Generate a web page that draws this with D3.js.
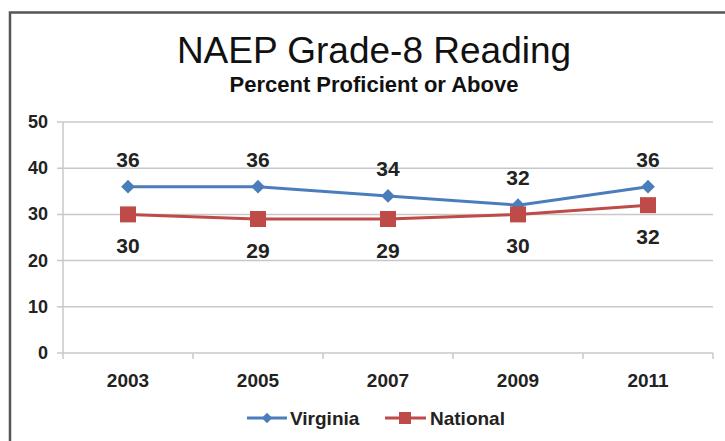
<!DOCTYPE html>
<html>
<head>
<meta charset="utf-8">
<script src="https://cdn.jsdelivr.net/npm/d3@7"></script>
<style>
body { margin: 0; background: #fff; }
text { font-family: "Liberation Sans", Arial, sans-serif; }
</style>
</head>
<body>
<div id="chart"></div>
<script>
var years = ["2003", "2005", "2007", "2009", "2011"]
var virginia = [36, 36, 34, 32, 36]
var national = [30, 29, 29, 30, 32]
var yTicks = [0, 10, 20, 30, 40, 50]

var svg = d3.select("#chart").append("svg").attr("width", 725).attr("height", 441)

// outer frame
svg.append("path")
    .attr("d", "M10,441 L10,12.5 L725,12.5")
    .attr("fill", "none")
    .attr("stroke", "#555")
    .attr("stroke-width", 2.5)

svg.append("text")
    .attr("x", 374).attr("y", 63)
    .attr("text-anchor", "middle")
    .style("font-size", "37px")
    .attr("fill", "#111")
    .text("NAEP Grade-8 Reading")

svg.append("text")
    .attr("x", 374).attr("y", 92)
    .attr("text-anchor", "middle")
    .style("font-size", "22px")
    .style("font-weight", "bold")
    .attr("fill", "#111")
    .text("Percent Proficient or Above")

var x = d3.scaleBand().domain(years).range([63, 713])
var y = d3.scaleLinear().domain([0, 50]).range([353, 122])

// gridlines
svg.append("g").selectAll("line").data(yTicks).join("line")
    .attr("x1", 57).attr("x2", 713)
    .attr("y1", function(d) { return y(d) }).attr("y2", function(d) { return y(d) })
    .attr("stroke", "#c8c8c8").attr("stroke-width", 1.5)

// y axis
svg.append("line")
    .attr("x1", 63).attr("x2", 63).attr("y1", 122).attr("y2", 353)
    .attr("stroke", "#c8c8c8").attr("stroke-width", 1.5)

svg.append("g").selectAll("text").data(yTicks).join("text")
    .attr("x", 48).attr("y", function(d) { return y(d) + 6 })
    .attr("text-anchor", "end")
    .style("font-size", "18px").style("font-weight", "bold")
    .attr("fill", "#222")
    .text(function(d) { return d })

// x axis ticks at band edges
var edges = years.map(function(d) { return x(d) }).concat([x.range()[1]])
svg.append("g").selectAll("line").data(edges).join("line")
    .attr("x1", function(d) { return d }).attr("x2", function(d) { return d })
    .attr("y1", 353).attr("y2", 359)
    .attr("stroke", "#c8c8c8").attr("stroke-width", 1.5)

svg.append("g").selectAll("text").data(years).join("text")
    .attr("x", function(d) { return x(d) + x.bandwidth() / 2 })
    .attr("y", 387)
    .attr("text-anchor", "middle")
    .style("font-size", "19px").style("font-weight", "bold")
    .attr("fill", "#222")
    .text(function(d) { return d })

var cx = function(d, i) { return x(years[i]) + x.bandwidth() / 2 }
var lineFunc = d3.line().x(cx).y(function(d) { return y(d) })

var blue = "#4a7ebb", red = "#be4b48"

svg.append("path").attr("d", lineFunc(virginia))
    .attr("fill", "none").attr("stroke", blue).attr("stroke-width", 3)
svg.append("path").attr("d", lineFunc(national))
    .attr("fill", "none").attr("stroke", red).attr("stroke-width", 3)

var diamond = d3.symbol().type(d3.symbolDiamond2).size(120)

svg.append("g").selectAll("path").data(virginia).join("path")
    .attr("transform", function(d, i) { return "translate(" + cx(d, i) + "," + y(d) + ")" })
    .attr("d", diamond)
    .attr("fill", blue)

svg.append("g").selectAll("rect").data(national).join("rect")
    .attr("x", function(d, i) { return cx(d, i) - 8 })
    .attr("y", function(d) { return y(d) - 8 })
    .attr("width", 16).attr("height", 16)
    .attr("fill", red)

// data labels
svg.append("g").selectAll("text").data(virginia).join("text")
    .attr("x", cx).attr("y", function(d) { return y(d) - 20 })
    .attr("text-anchor", "middle")
    .style("font-size", "21px").style("font-weight", "bold")
    .attr("fill", "#222")
    .text(function(d) { return d })

svg.append("g").selectAll("text").data(national).join("text")
    .attr("x", cx).attr("y", function(d) { return y(d) + 39 })
    .attr("text-anchor", "middle")
    .style("font-size", "21px").style("font-weight", "bold")
    .attr("fill", "#222")
    .text(function(d) { return d })

// legend
var legend = svg.append("g")
legend.append("line").attr("x1", 247).attr("x2", 287).attr("y1", 418).attr("y2", 418)
    .attr("stroke", blue).attr("stroke-width", 3)
legend.append("path").attr("transform", "translate(267,418)")
    .attr("d", d3.symbol().type(d3.symbolDiamond2).size(70)).attr("fill", blue)
legend.append("text").attr("x", 290).attr("y", 425)
    .style("font-size", "19px").style("font-weight", "bold").attr("fill", "#222")
    .text("Virginia")

legend.append("line").attr("x1", 385).attr("x2", 426).attr("y1", 418).attr("y2", 418)
    .attr("stroke", red).attr("stroke-width", 3)
legend.append("rect").attr("x", 399).attr("y", 412).attr("width", 12).attr("height", 12)
    .attr("fill", red)
legend.append("text").attr("x", 430).attr("y", 425)
    .style("font-size", "19px").style("font-weight", "bold").attr("fill", "#222")
    .text("National")
</script>
</body>
</html>
